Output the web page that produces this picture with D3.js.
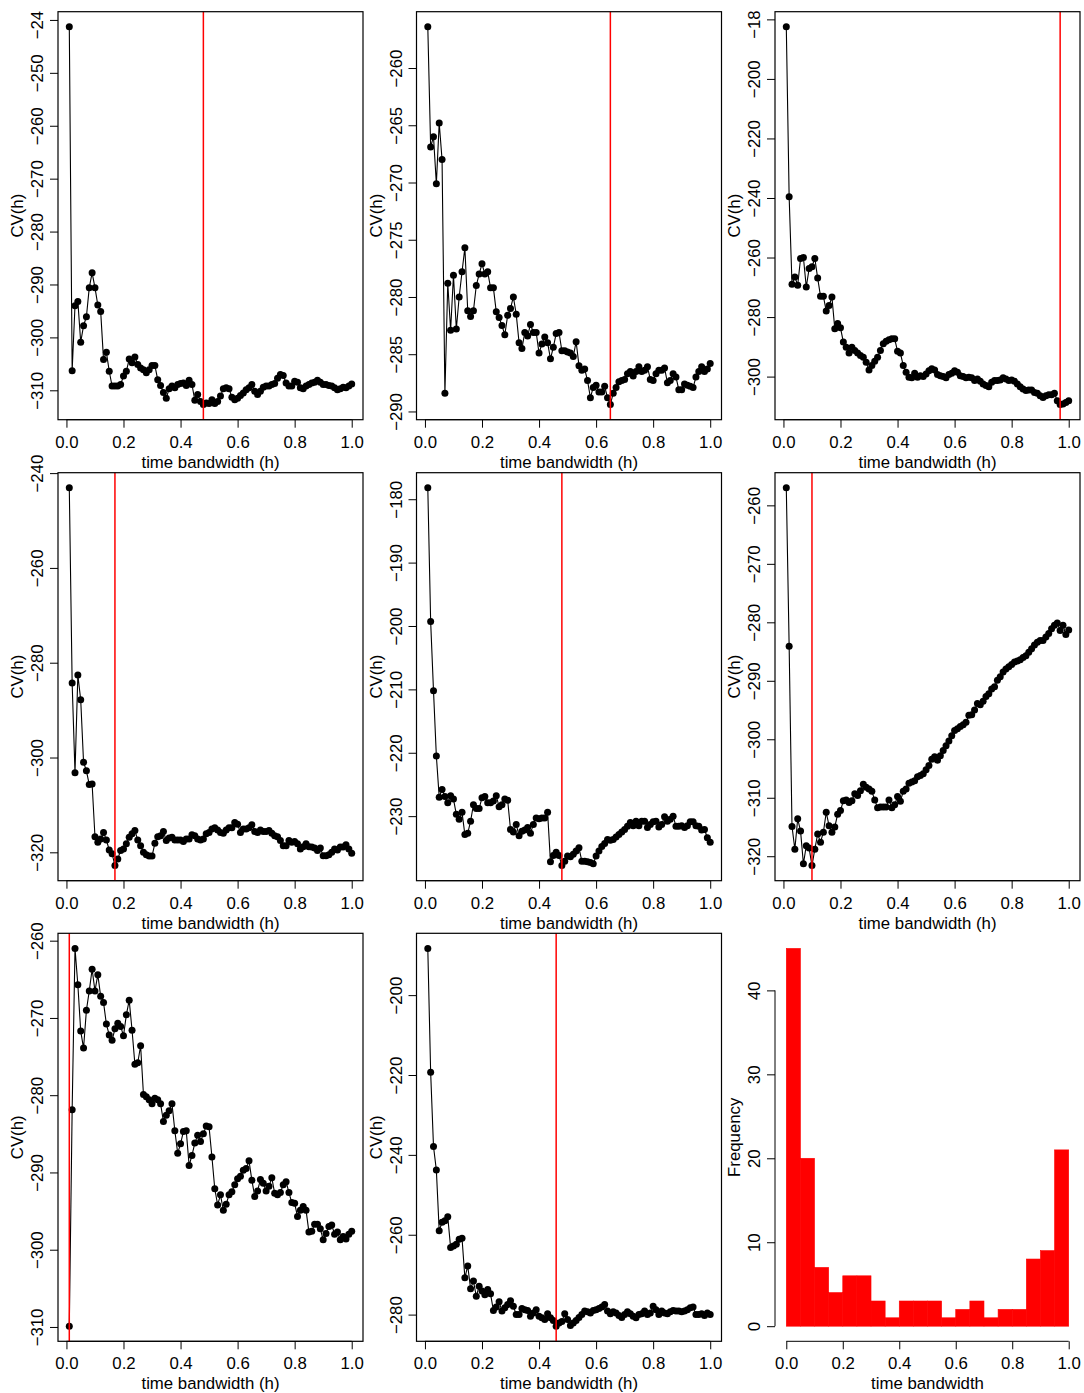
<!DOCTYPE html>
<html><head><meta charset="utf-8">
<script src="https://cdn.jsdelivr.net/npm/d3@7"></script>
<style>body{margin:0;background:#fff} svg{display:block}</style>
</head><body><svg id="c" width="1084" height="1393"></svg>
<script>
// ---------------- DATA ----------------
const hGrid = [0.01,0.02,0.03,0.04,0.05,0.06,0.07,0.08,0.09,0.10,
0.11,0.12,0.13,0.14,0.15,0.16,0.17,0.18,0.19,0.20,
0.21,0.22,0.23,0.24,0.25,0.26,0.27,0.28,0.29,0.30,
0.31,0.32,0.33,0.34,0.35,0.36,0.37,0.38,0.39,0.40,
0.41,0.42,0.43,0.44,0.45,0.46,0.47,0.48,0.49,0.50,
0.51,0.52,0.53,0.54,0.55,0.56,0.57,0.58,0.59,0.60,
0.61,0.62,0.63,0.64,0.65,0.66,0.67,0.68,0.69,0.70,
0.71,0.72,0.73,0.74,0.75,0.76,0.77,0.78,0.79,0.80,
0.81,0.82,0.83,0.84,0.85,0.86,0.87,0.88,0.89,0.90,
0.91,0.92,0.93,0.94,0.95,0.96,0.97,0.98,0.99,1.00];

const cv1 = [-241.3,-306.3,-294.0,-293.2,-300.9,-297.8,-296.1,-290.6,-287.8,-290.6,
-293.9,-295.1,-304.2,-302.8,-306.4,-309.2,-309.2,-309.2,-308.9,-307.3,
-306.4,-304.1,-304.8,-303.7,-305.1,-305.8,-306.1,-306.7,-306.1,-305.3,
-305.3,-308.0,-309.1,-310.4,-311.5,-309.7,-309.2,-309.5,-308.9,-308.7,
-308.6,-309.1,-308.1,-308.9,-311.9,-310.8,-312.1,-312.7,-312.4,-312.5,
-311.8,-312.5,-312.1,-311.1,-309.7,-309.5,-309.7,-311.3,-311.8,-311.5,
-311.0,-310.5,-309.9,-309.5,-308.9,-310.2,-310.8,-310.2,-309.4,-309.2,
-309.2,-308.9,-308.7,-307.7,-307.0,-307.2,-308.6,-309.2,-309.2,-308.3,
-308.5,-309.5,-309.7,-309.2,-308.9,-308.6,-308.5,-308.1,-308.5,-308.9,
-308.9,-309.1,-309.2,-309.5,-309.9,-309.7,-309.4,-309.5,-309.2,-308.8];

const cv2 = [-256.4,-266.9,-266.0,-270.1,-264.8,-268.0,-288.4,-278.8,-282.9,-278.1,
-282.8,-280.0,-277.8,-275.7,-281.2,-281.7,-281.2,-279.0,-278.0,-277.1,
-278.0,-277.8,-279.2,-279.2,-281.3,-281.8,-282.5,-283.3,-281.6,-281.0,
-280.0,-281.5,-284.0,-284.5,-283.1,-283.4,-282.4,-283.1,-283.1,-284.9,
-284.1,-283.5,-284.0,-285.4,-284.4,-283.2,-283.1,-284.7,-284.7,-284.8,
-284.9,-285.2,-283.9,-286.0,-286.4,-286.3,-287.3,-288.8,-287.9,-287.7,
-288.3,-288.3,-287.8,-288.8,-289.4,-288.4,-287.9,-287.4,-287.3,-287.2,
-286.7,-286.5,-286.9,-286.5,-286.1,-286.5,-286.4,-286.1,-287.2,-287.3,
-286.7,-286.4,-286.4,-286.2,-287.5,-287.3,-286.7,-287.0,-288.1,-288.1,
-287.6,-287.7,-287.8,-287.9,-287.0,-286.5,-286.1,-286.5,-286.3,-285.8];

const cv3 = [-182.5,-239.6,-269.0,-266.5,-269.3,-260.3,-260.0,-269.9,-263.7,-263.1,
-260.3,-266.9,-273.0,-273.0,-278.0,-276.1,-273.3,-283.9,-282.2,-283.6,
-288.4,-290.1,-292.1,-290.1,-291.2,-292.1,-292.9,-293.5,-295.2,-297.8,
-296.3,-294.8,-293.5,-291.2,-289.0,-288.1,-287.6,-287.3,-287.3,-291.5,
-292.1,-296.3,-298.5,-300.2,-300.4,-298.9,-300.2,-299.7,-300.0,-299.1,
-298.0,-297.4,-297.8,-299.3,-299.7,-300.0,-300.4,-299.3,-298.9,-298.0,
-298.5,-299.7,-300.0,-300.4,-300.2,-300.4,-301.3,-300.8,-301.6,-302.5,
-303.0,-303.4,-301.9,-301.3,-301.3,-301.1,-300.4,-300.8,-301.3,-301.1,
-301.6,-302.5,-303.4,-304.2,-304.7,-304.5,-304.5,-305.3,-305.6,-306.4,
-307.0,-306.4,-306.1,-306.1,-305.6,-308.1,-309.4,-309.2,-308.7,-308.1];

const cv4 = [-243.1,-284.3,-303.2,-282.6,-287.8,-301.0,-302.8,-305.7,-305.6,-316.7,
-317.9,-317.2,-315.8,-317.4,-319.5,-320.3,-322.8,-321.4,-319.6,-319.3,
-318.2,-316.8,-316.1,-315.4,-317.4,-318.6,-320.0,-320.5,-320.8,-320.8,
-318.1,-316.7,-316.5,-315.6,-317.5,-317.0,-316.8,-317.4,-317.4,-317.4,
-317.7,-317.2,-317.2,-316.3,-316.5,-317.2,-317.4,-317.2,-316.1,-315.8,
-315.1,-314.8,-315.3,-315.8,-316.0,-315.3,-314.8,-314.8,-313.7,-314.1,
-315.8,-315.1,-315.1,-314.8,-314.2,-315.6,-315.8,-315.3,-315.6,-315.6,
-315.4,-316.0,-316.5,-316.7,-317.5,-318.6,-318.6,-317.5,-317.9,-317.7,
-318.2,-319.3,-318.8,-318.2,-318.8,-318.9,-319.1,-319.6,-319.1,-320.7,
-320.7,-320.5,-320.0,-319.3,-319.5,-318.9,-318.9,-318.4,-319.3,-320.2];

const cv5 = [-178.2,-199.3,-210.2,-220.5,-227.0,-225.8,-226.9,-227.9,-226.8,-227.3,
-229.7,-230.5,-229.4,-232.9,-232.7,-230.8,-228.2,-228.8,-228.8,-227.1,
-226.9,-227.9,-227.9,-227.6,-226.8,-228.5,-228.2,-227.3,-227.5,-232.1,
-232.5,-231.3,-233.1,-232.4,-232.2,-231.8,-232.7,-231.3,-230.3,-230.4,
-230.3,-230.3,-229.4,-237.2,-236.2,-235.7,-236.2,-237.8,-237.1,-236.3,
-236.4,-236.0,-235.5,-235.0,-237.1,-237.1,-237.2,-237.3,-237.5,-236.3,
-235.5,-234.8,-234.3,-233.7,-233.8,-233.7,-233.3,-232.9,-232.5,-232.1,
-231.6,-231.0,-231.5,-230.8,-231.5,-230.8,-230.8,-231.8,-231.3,-230.9,
-230.8,-231.7,-231.3,-230.1,-230.8,-230.5,-230.0,-231.6,-231.6,-231.5,
-231.8,-231.5,-230.9,-230.9,-231.5,-231.6,-232.2,-232.1,-233.4,-234.1];

const cv6 = [-257.0,-284.1,-314.9,-318.8,-313.6,-315.7,-321.3,-318.2,-318.6,-321.6,
-318.8,-316.2,-317.6,-315.9,-312.5,-314.8,-315.9,-315.0,-312.8,-312.2,
-310.5,-310.4,-310.8,-310.5,-309.3,-309.6,-308.8,-307.7,-308.2,-308.5,
-308.9,-310.4,-311.7,-311.6,-311.6,-311.6,-310.4,-311.7,-311.2,-309.8,
-310.6,-308.9,-308.5,-307.5,-307.3,-307.1,-306.4,-306.2,-305.9,-305.2,
-304.5,-303.4,-303.0,-303.6,-302.8,-301.9,-301.1,-300.3,-299.4,-298.5,
-298.2,-297.8,-297.5,-297.1,-295.9,-295.8,-295.0,-293.9,-294.1,-293.5,
-292.7,-292.2,-291.4,-291.0,-289.9,-289.3,-288.5,-288.0,-287.6,-287.2,
-286.8,-286.6,-286.4,-286.0,-285.7,-285.1,-284.5,-283.9,-283.4,-283.1,
-283.1,-282.5,-281.9,-281.1,-280.5,-280.1,-281.4,-280.5,-282.1,-281.3];

const cv7 = [-309.9,-281.9,-261.0,-265.7,-271.7,-273.9,-269.0,-266.5,-263.7,-266.5,
-264.4,-267.2,-268.0,-270.8,-272.2,-272.9,-271.4,-270.7,-271.1,-272.3,
-269.6,-267.7,-271.6,-276.0,-275.8,-273.6,-279.9,-280.2,-280.6,-281.1,
-280.4,-280.6,-281.1,-283.4,-282.6,-282.0,-281.1,-284.6,-287.5,-286.3,
-284.7,-284.6,-289.1,-287.8,-286.2,-285.2,-286.0,-285.0,-284.0,-284.1,
-288.0,-292.1,-294.2,-292.9,-294.9,-294.1,-292.9,-292.5,-291.6,-290.8,
-290.5,-289.7,-289.5,-288.5,-291.0,-293.1,-292.4,-290.9,-291.4,-292.4,
-291.8,-290.7,-292.7,-292.9,-292.6,-291.6,-291.2,-292.6,-293.9,-294.0,
-295.7,-294.9,-294.4,-294.9,-297.7,-297.6,-296.7,-296.7,-297.3,-298.7,
-297.9,-297.0,-296.8,-298.0,-297.7,-298.7,-298.3,-298.6,-298.0,-297.6];

const cv8 = [-188.3,-219.3,-237.9,-243.8,-259.0,-256.9,-256.5,-255.5,-263.2,-262.8,
-262.4,-261.1,-260.9,-270.8,-267.8,-273.5,-271.6,-275.4,-272.9,-274.1,
-275.0,-273.7,-274.8,-279.0,-278.1,-276.8,-279.1,-278.3,-277.5,-276.5,
-277.9,-280.0,-280.0,-278.5,-278.8,-279.0,-280.4,-279.6,-278.8,-280.4,
-280.8,-281.2,-279.8,-280.8,-281.5,-282.9,-282.1,-281.7,-279.8,-281.2,
-282.7,-282.1,-281.5,-280.7,-280.0,-279.1,-279.3,-279.6,-279.0,-278.8,
-278.5,-278.1,-277.5,-279.1,-279.8,-279.3,-279.6,-280.2,-280.7,-280.0,
-279.3,-279.8,-280.4,-280.8,-280.0,-279.8,-279.1,-280.0,-279.6,-277.9,
-278.8,-280.0,-279.1,-279.6,-279.8,-279.3,-279.0,-279.1,-279.1,-279.3,
-279.1,-278.8,-278.3,-278.1,-280.0,-280.0,-279.8,-280.2,-279.6,-280.0];

const selectedH = [0.48, 0.65, 0.97, 0.17, 0.48, 0.10, 0.01, 0.46];

const xTickValues = [0.0, 0.2, 0.4, 0.6, 0.8, 1.0];
const yTicks1 = [-240, -250, -260, -270, -280, -290, -300, -310];
const yTicks2 = [-260, -265, -270, -275, -280, -285, -290];
const yTicks3 = [-180, -200, -220, -240, -260, -280, -300];
const yTicks4 = [-240, -260, -280, -300, -320];
const yTicks5 = [-180, -190, -200, -210, -220, -230];
const yTicks6 = [-260, -270, -280, -290, -300, -310, -320];
const yTicks7 = [-260, -270, -280, -290, -300, -310];
const yTicks8 = [-200, -220, -240, -260, -280];

const histBreaks = [0,0.05,0.1,0.15,0.2,0.25,0.3,0.35,0.4,0.45,0.5,0.55,0.6,0.65,0.7,0.75,0.8,0.85,0.9,0.95,1.0];
const histCounts = [45,20,7,4,6,6,3,1,3,3,3,1,2,3,1,2,2,8,9,21];
const histYTicks = [0, 10, 20, 30, 40];

const xLabel = "time bandwidth (h)";
const yLabel = "CV(h)";
const histXLabel = "time bandwidth";
const histYLabel = "Frequency";

// ---------------- DRAWING ----------------
const FONT = "'Liberation Sans', Arial, Helvetica, sans-serif";
const FS = 16.8;
const svg = d3.select("#c");
svg.append("defs").append("clipPath").attr("id", "figclip")
  .append("rect").attr("x", 0).attr("y", 10).attr("width", 1084).attr("height", 1383);
const root = svg.append("g").attr("clip-path", "url(#figclip)");

const colX = [58, 416.5, 775];
const rowY = [11.7, 472.7, 933.3];
const W = 305, H = 408;

const series = [cv1, cv2, cv3, cv4, cv5, cv6, cv7, cv8];
const yTickSets = [yTicks1, yTicks2, yTicks3, yTicks4, yTicks5, yTicks6, yTicks7, yTicks8];

function padExtent(ext) {
  const p = (ext[1] - ext[0]) * 0.04;
  return [ext[0] - p, ext[1] + p];
}

function xAxis(g, x, ticks, fmt) {
  const a = g.append("g").attr("transform", `translate(0,${H})`)
    .call(d3.axisBottom(x).tickValues(ticks).tickSize(8).tickFormat(fmt));
  a.attr("font-family", FONT).attr("font-size", FS);
  a.select(".domain").remove();
  a.selectAll(".tick line").attr("stroke", "#000").attr("stroke-width", 1);
  a.selectAll(".tick text").attr("fill", "#000").attr("y", 22).attr("dy", "0.35em");
  a.append("line").attr("x1", x(ticks[0])).attr("x2", x(ticks[ticks.length - 1]))
    .attr("y1", 0).attr("y2", 0).attr("stroke", "#000").attr("stroke-width", 1);
}

function yAxis(g, y, ticks, fmt) {
  const a = g.append("g").call(d3.axisLeft(y).tickValues(ticks).tickSize(8).tickFormat(fmt));
  a.attr("font-family", FONT).attr("font-size", FS);
  a.select(".domain").remove();
  a.selectAll(".tick line").attr("stroke", "#000").attr("stroke-width", 1);
  a.selectAll(".tick text").attr("fill", "#000").attr("x", null)
    .attr("text-anchor", "middle").attr("dy", "0.35em")
    .attr("transform", "translate(-20.5,0) rotate(-90)");
  return a;
}

function titles(g, xt, yt) {
  g.append("text").attr("x", W / 2).attr("y", H + 42).attr("dy", "0.35em")
    .attr("text-anchor", "middle").attr("font-family", FONT).attr("font-size", FS)
    .attr("fill", "#000").text(xt);
  g.append("text").attr("transform", `translate(-40.5,${H / 2}) rotate(-90)`)
    .attr("dy", "0.35em").attr("text-anchor", "middle").attr("font-family", FONT)
    .attr("font-size", FS).attr("fill", "#000").text(yt);
}

series.forEach((vals, i) => {
  const col = i % 3, row = Math.floor(i / 3);
  const g = root.append("g").attr("transform", `translate(${colX[col]},${rowY[row]})`);
  const x = d3.scaleLinear().domain(padExtent(d3.extent(hGrid))).range([0, W]);
  const y = d3.scaleLinear().domain(padExtent(d3.extent(vals))).range([H, 0]);
  const pts = hGrid.map((h, k) => [h, vals[k]]);

  xAxis(g, x, xTickValues, d3.format(".1f"));
  yAxis(g, y, yTickSets[i], d3.format("d"));
  titles(g, xLabel, yLabel);

  g.append("path").datum(pts)
    .attr("d", d3.line().x(d => x(d[0])).y(d => y(d[1])))
    .attr("fill", "none").attr("stroke", "#000").attr("stroke-width", 1.1);
  g.selectAll("circle").data(pts).join("circle")
    .attr("cx", d => x(d[0])).attr("cy", d => y(d[1])).attr("r", 3.5).attr("fill", "#000");

  g.append("line").attr("x1", x(selectedH[i])).attr("x2", x(selectedH[i]))
    .attr("y1", 0).attr("y2", H).attr("stroke", "#ff0000").attr("stroke-width", 1.5);

  g.append("rect").attr("width", W).attr("height", H).attr("fill", "none")
    .attr("stroke", "#000").attr("stroke-width", 1.2);
});

// Histogram
(function () {
  const g = root.append("g").attr("transform", `translate(${colX[2]},${rowY[2]})`);
  const x = d3.scaleLinear().domain(padExtent(d3.extent(histBreaks))).range([0, W]);
  const y = d3.scaleLinear().domain(padExtent([0, d3.max(histCounts)])).range([H, 0]);
  g.selectAll("rect.bar").data(histCounts).join("rect").attr("class", "bar")
    .attr("x", (d, k) => x(histBreaks[k]))
    .attr("width", (d, k) => x(histBreaks[k + 1]) - x(histBreaks[k]))
    .attr("y", d => y(d)).attr("height", d => y(0) - y(d))
    .attr("fill", "#ff0000").attr("stroke", "#ff0000").attr("stroke-width", 0.6);
  xAxis(g, x, xTickValues, d3.format(".1f"));
  const ya = yAxis(g, y, histYTicks, d3.format("d"));
  ya.append("line").attr("x1", 0).attr("x2", 0)
    .attr("y1", y(histYTicks[0])).attr("y2", y(histYTicks[histYTicks.length - 1]))
    .attr("stroke", "#000").attr("stroke-width", 1);
  titles(g, histXLabel, histYLabel);
})();
</script></body></html>
